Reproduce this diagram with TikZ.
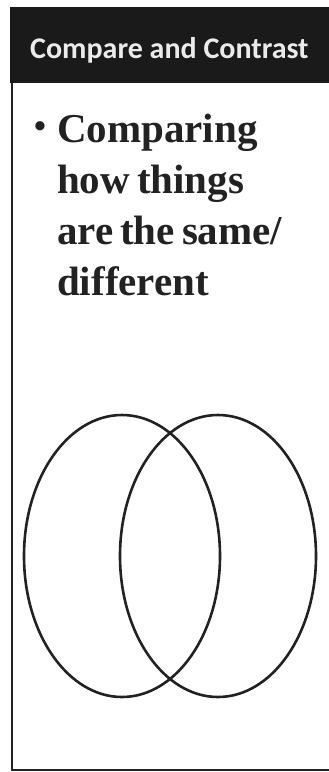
\documentclass[tikz,border=0pt]{standalone}
\usepackage{fontspec}
\setmainfont{Liberation Serif}
\newfontfamily\headfont{Carlito}
\usepackage{tikz}
\usetikzlibrary{shapes.geometric, positioning}

\definecolor{inkgray}{HTML}{222222}
\definecolor{headblack}{HTML}{1A1A1A}
\newcommand\pointfont{\bfseries\fontsize{41}{51}\selectfont\spaceskip=7pt\relax}

\begin{document}
\begin{tikzpicture}[x=1pt, y=-1pt,
    ring/.style={ellipse, draw=inkgray, line width=2.6pt, minimum width=196pt, minimum height=282pt, inner sep=0pt}]
    \useasboundingbox (0,0) rectangle (329,772);
    % header bar and frame
    \fill [headblack] (10,7) rectangle (329,83);
    \node [anchor=base west, inner sep=0pt, text=white!92!black, font=\headfont\bfseries\fontsize{30}{30}\selectfont] (title) at (30,58) {Compare and Contrast};
    \draw [inkgray, line width=1.8pt] (12,83) -- (12,770) -- (329,770);
    
    \node [anchor=north west, inner sep=0pt, text width=260pt, align=flush left, text=inkgray, font=\pointfont] (point) at (57,114) {Comparing\\how things\\are the same/\\different};
    \node [inner sep=0pt, text=inkgray, font=\bfseries\fontsize{34}{34}\selectfont] (dot) at (40,130) {\textbullet};
    
    % venn diagram
    \node [ring] (left) at (122,556) {};
    \node [ring] (right) at (218,556) {};
\end{tikzpicture}
\end{document}
